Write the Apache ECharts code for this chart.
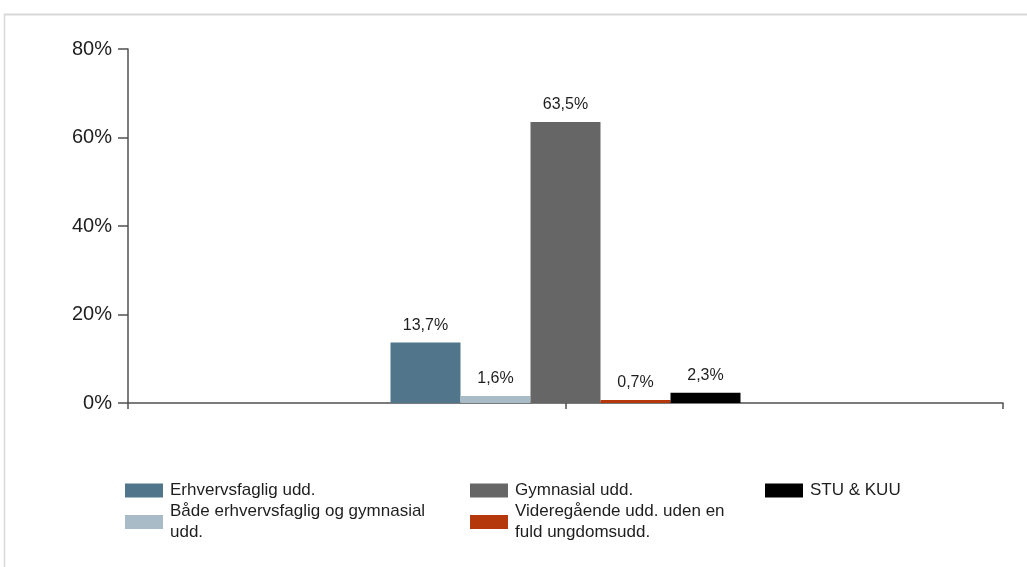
<!DOCTYPE html>
<html>
<head>
<meta charset="utf-8">
<script src="https://cdn.jsdelivr.net/npm/echarts@6/dist/echarts.min.js"></script>
<style>
html,body{margin:0;padding:0;background:#fff;}
#chart{width:1027px;height:567px;}
</style>
</head>
<body>
<div id="chart"></div>
<script>
const categories = [''];
const seriesNames = [
  'Erhvervsfaglig udd.',
  'Både erhvervsfaglig og gymnasial udd.',
  'Gymnasial udd.',
  'Videregående udd. uden en fuld ungdomsudd.',
  'STU & KUU'
];
const legendLabels = [
  'Erhvervsfaglig udd.',
  'Både erhvervsfaglig og gymnasial\nudd.',
  'Gymnasial udd.',
  'Videregående udd. uden en\nfuld ungdomsudd.',
  'STU & KUU'
];
const values = [13.7, 1.6, 63.5, 0.7, 2.3];
const colors = ['#51758A', '#A8BBC6', '#666666', '#B5380C', '#000000'];
const yTicks = [0, 20, 40, 60, 80];

const FONT = '"Liberation Sans", Arial, sans-serif';
const TXT = '#1e1e1e';

const chart = echarts.init(document.getElementById('chart'), null, {renderer: 'canvas'});

const labelMap = {};
seriesNames.forEach((n, i) => labelMap[n] = legendLabels[i]);

const series = seriesNames.map((name, i) => ({
  name: name,
  type: 'bar',
  xAxisIndex: 0,
  yAxisIndex: 0,
  barGap: '0%',
  barCategoryGap: '60%',
  itemStyle: {color: colors[i]},
  label: {
    show: true,
    position: 'top',
    distance: 9,
    color: TXT,
    fontFamily: FONT,
    fontSize: 16,
    formatter: p => p.value.toFixed(1).replace('.', ',') + '%'
  },
  data: [values[i]]
}));

function legendAt(left, names) {
  return {
    orient: 'vertical',
    left: left,
    top: 480,
    padding: 0,
    itemGap: 0,
    itemWidth: 38,
    itemHeight: 14,
    icon: 'rect',
    selectedMode: false,
    data: names,
    formatter: n => labelMap[n],
    textStyle: {
      color: TXT,
      fontFamily: FONT,
      fontSize: 17,
      lineHeight: 21,
      padding: [0, 0, 0, 2]
    }
  };
}

const option = {
  animation: false,
  backgroundColor: '#ffffff',
  grid: {left: 128, right: 24, top: 49, bottom: 164, containLabel: false},
  xAxis: [{
    type: 'category',
    data: categories,
    axisLine: {show: true, lineStyle: {color: '#505050', width: 1.5}},
    axisTick: {show: false},
    axisLabel: {show: false},
    splitLine: {show: false}
  }, {
    type: 'value',
    position: 'bottom',
    min: 0, max: 2, interval: 1,
    axisLine: {show: false},
    axisTick: {show: true, length: 6, lineStyle: {color: '#505050', width: 1.5}},
    axisLabel: {show: false},
    splitLine: {show: false}
  }],
  yAxis: {
    type: 'value',
    min: yTicks[0], max: yTicks[yTicks.length - 1], interval: 20,
    axisLine: {show: true, lineStyle: {color: '#505050', width: 1.5}},
    axisTick: {show: true, length: 10, lineStyle: {color: '#505050', width: 1.5}},
    axisLabel: {
      margin: 16,
      color: TXT,
      fontFamily: FONT,
      fontSize: 20,
      formatter: '{value}%'
    },
    splitLine: {show: false}
  },
  legend: [
    legendAt(125, [seriesNames[0], seriesNames[1]]),
    legendAt(470, [seriesNames[2], seriesNames[3]]),
    legendAt(765, [seriesNames[4]])
  ],
  graphic: [
    {type: 'line', shape: {x1: 4, y1: 14.5, x2: 1027, y2: 14.5}, style: {stroke: '#d8d8d8', lineWidth: 2}, silent: true},
    {type: 'line', shape: {x1: 4.5, y1: 14, x2: 4.5, y2: 567}, style: {stroke: '#d8d8d8', lineWidth: 1.5}, silent: true}
  ],
  series: series
};

chart.setOption(option);
</script>
</body>
</html>
